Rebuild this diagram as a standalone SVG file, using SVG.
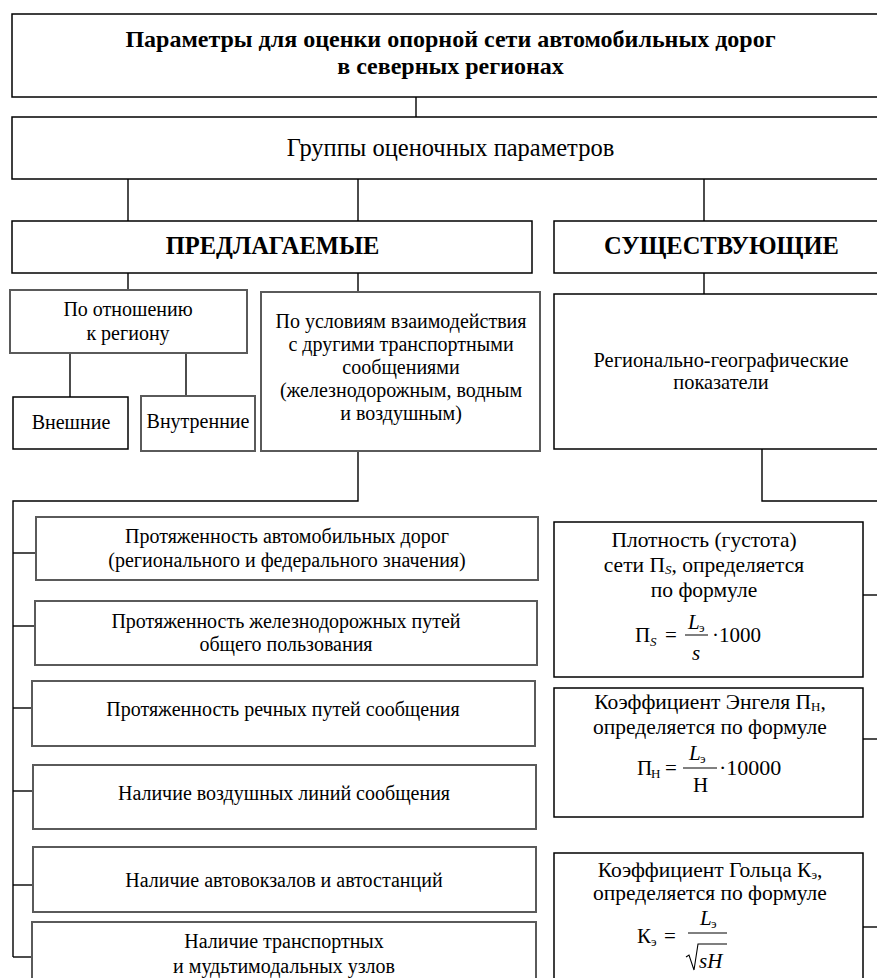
<svg xmlns="http://www.w3.org/2000/svg" width="877" height="978" viewBox="0 0 877 978" font-family="'Liberation Serif', Tinos, 'Times New Roman', 'DejaVu Serif', serif">
<style>
  text { font-family: "Liberation Serif", Tinos, "Times New Roman", "DejaVu Serif", serif; fill: #000; }
  .t { font-size: 20px; text-anchor: middle; }
  .tr { font-size: 21.5px; text-anchor: middle; }
  .tb { font-size: 24px; font-weight: bold; text-anchor: middle; }
  .m { font-size: 21px; }
  .mi { font-size: 21px; font-style: italic; }
  .sub { font-size: 13px; }
  .subi { font-size: 13px; font-style: italic; }
  .bk { fill: #fff; stroke: #000; stroke-width: 1.5; }
  .gr { fill: #fff; stroke: #5a5a5a; stroke-width: 2; }
  .ln { stroke: #000; stroke-width: 1.4; fill: none; }
</style>
<rect x="0" y="0" width="877" height="978" fill="#fff"/>
<g id="connectors">
  <line class="ln" x1="416" y1="97" x2="416" y2="117"/>
  <line class="ln" x1="128" y1="179" x2="128" y2="221"/>
  <line class="ln" x1="358" y1="179" x2="358" y2="221"/>
  <line class="ln" x1="704" y1="179" x2="704" y2="221"/>
  <line class="ln" x1="128" y1="273" x2="128" y2="290"/>
  <line class="ln" x1="358" y1="273" x2="358" y2="292"/>
  <line class="ln" x1="704" y1="273" x2="704" y2="294"/>
  <line class="ln" x1="70" y1="353" x2="70" y2="397"/>
  <line class="ln" x1="186" y1="353" x2="186" y2="396"/>
  <polyline class="ln" points="358,451 358,501 13,501 13,957"/>
  <polyline class="ln" points="762,449 762,501 877,501"/>
  <line class="ln" x1="13" y1="553" x2="36" y2="553"/>
  <line class="ln" x1="36" y1="518" x2="36" y2="574"/>
  <line class="ln" x1="13" y1="626" x2="35" y2="626"/>
  <line class="ln" x1="13" y1="708" x2="32" y2="708"/>
  <line class="ln" x1="13" y1="791" x2="33" y2="791"/>
  <line class="ln" x1="13" y1="885" x2="33" y2="885"/>
  <line class="ln" x1="13" y1="957" x2="32" y2="957"/>
  <line class="ln" x1="863" y1="595" x2="877" y2="595"/>
  <line class="ln" x1="863" y1="739" x2="877" y2="739"/>
  <line class="ln" x1="863" y1="927" x2="877" y2="927"/>
</g>
<g id="title">
  <rect class="bk" x="12" y="14" width="890" height="83"/>
  <text class="tb" x="450.5" y="47">Параметры для оценки опорной сети автомобильных дорог</text>
  <text class="tb" x="450.5" y="74">в северных регионах</text>
</g>
<g id="groups">
  <rect class="bk" x="12" y="117" width="890" height="62"/>
  <text class="t" x="450.5" y="156" style="font-size:24.5px">Группы оценочных параметров</text>
</g>
<g id="proposed">
  <rect class="bk" x="12" y="221" width="520" height="52"/>
  <text class="tb" x="272.5" y="254" style="font-size:24.5px">ПРЕДЛАГАЕМЫЕ</text>
</g>
<g id="existing">
  <rect class="bk" x="554" y="221" width="348" height="52"/>
  <text class="tb" x="721.5" y="254" style="font-size:24.5px">СУЩЕСТВУЮЩИЕ</text>
</g>
<g id="region-rel">
  <rect class="gr" x="10" y="290" width="237" height="63"/>
  <text class="t" x="128" y="316">По отношению</text>
  <text class="t" x="128" y="340">к региону</text>
</g>
<g id="external">
  <rect class="bk" x="13" y="397" width="115" height="52"/>
  <text class="t" x="71" y="429">Внешние</text>
</g>
<g id="internal">
  <rect class="gr" x="141" y="396" width="114" height="55"/>
  <text class="t" x="198" y="428">Внутренние</text>
</g>
<g id="interaction">
  <rect class="gr" x="261" y="292" width="279" height="159"/>
  <text class="t" x="401" y="328">По условиям взаимодействия</text>
  <text class="t" x="401" y="351">с другими транспортными</text>
  <text class="t" x="401" y="374">сообщениями</text>
  <text class="t" x="401" y="397">(железнодорожным, водным</text>
  <text class="t" x="401" y="420">и воздушным)</text>
</g>
<g id="regional">
  <rect class="bk" x="554" y="294" width="348" height="155"/>
  <text class="t" x="721" y="367" style="font-size:20.4px">Регионально-географические</text>
  <text class="t" x="721" y="389" style="font-size:20.4px">показатели</text>
</g>
<g id="item1">
  <rect class="gr" x="36" y="517" width="502" height="63"/>
  <text class="t" x="287" y="543">Протяженность автомобильных дорог</text>
  <text class="t" x="287" y="567">(регионального и федерального значения)</text>
</g>
<g id="item2">
  <rect class="gr" x="35" y="601" width="502" height="64"/>
  <text class="t" x="286" y="628">Протяженность железнодорожных путей</text>
  <text class="t" x="286" y="651">общего пользования</text>
</g>
<g id="item3">
  <rect class="gr" x="32" y="681" width="503" height="65"/>
  <text class="t" x="283" y="716">Протяженность речных путей сообщения</text>
</g>
<g id="item4">
  <rect class="gr" x="33" y="765" width="503" height="64"/>
  <text class="t" x="284" y="800">Наличие воздушных линий сообщения</text>
</g>
<g id="item5">
  <rect class="gr" x="33" y="847" width="503" height="65"/>
  <text class="t" x="284" y="887">Наличие автовокзалов и автостанций</text>
</g>
<g id="item6">
  <rect class="gr" x="32" y="922" width="504" height="70"/>
  <text class="t" x="284" y="948">Наличие транспортных</text>
  <text class="t" x="284" y="973">и мудьтимодальных узлов</text>
</g>
<g id="density">
  <rect class="bk" x="554" y="522" width="309" height="155"/>
  <text class="tr" x="704" y="547">Плотность (густота)</text>
  <text class="tr" x="704" y="572">сети П<tspan class="subi" dy="2">S</tspan><tspan dy="-2">, определяется</tspan></text>
  <text class="tr" x="704" y="597">по формуле</text>
  <text class="m" x="635" y="642">П</text>
  <text class="subi" x="650" y="646">S</text>
  <text class="m" x="665" y="642">=</text>
  <text class="mi" x="688" y="629">L</text>
  <text class="sub" x="699" y="632">э</text>
  <line x1="685" y1="635" x2="708" y2="635" stroke="#000" stroke-width="1"/>
  <text class="mi" x="692" y="660">s</text>
  <text class="m" x="712" y="642">·1000</text>
</g>
<g id="engel">
  <rect class="bk" x="554" y="688" width="309" height="129"/>
  <text class="tr" x="710" y="709">Коэффициент Энгеля П<tspan class="sub" dy="2">Н</tspan><tspan dy="-2">,</tspan></text>
  <text class="tr" x="710" y="734">определяется по формуле</text>
  <text class="m" x="637" y="775">П</text>
  <text class="sub" x="651" y="778">Н</text>
  <text class="m" x="665" y="775">=</text>
  <text class="mi" x="689" y="760">L</text>
  <text class="sub" x="700" y="763">э</text>
  <line x1="683" y1="768" x2="717" y2="768" stroke="#000" stroke-width="1"/>
  <text class="m" x="693" y="792">Н</text>
  <text class="m" x="719" y="775" style="font-size:22px">·10000</text>
</g>
<g id="goltz">
  <rect class="bk" x="554" y="853" width="309" height="140"/>
  <text class="tr" x="710" y="877">Коэффициент Гольца К<tspan class="sub" dy="2">э</tspan><tspan dy="-2">,</tspan></text>
  <text class="tr" x="710" y="900">определяется по формуле</text>
  <text class="m" x="637" y="943">К</text>
  <text class="sub" x="651" y="946">э</text>
  <text class="m" x="664" y="943">=</text>
  <text class="mi" x="700" y="925">L</text>
  <text class="sub" x="711" y="928">э</text>
  <line x1="688" y1="933" x2="727" y2="933" stroke="#000" stroke-width="1"/>
  <polyline points="686,957 689,955 694,970 698,944 727,944" fill="none" stroke="#000" stroke-width="1.1"/>
  <text class="mi" x="699" y="968">sH</text>
</g>
</svg>
